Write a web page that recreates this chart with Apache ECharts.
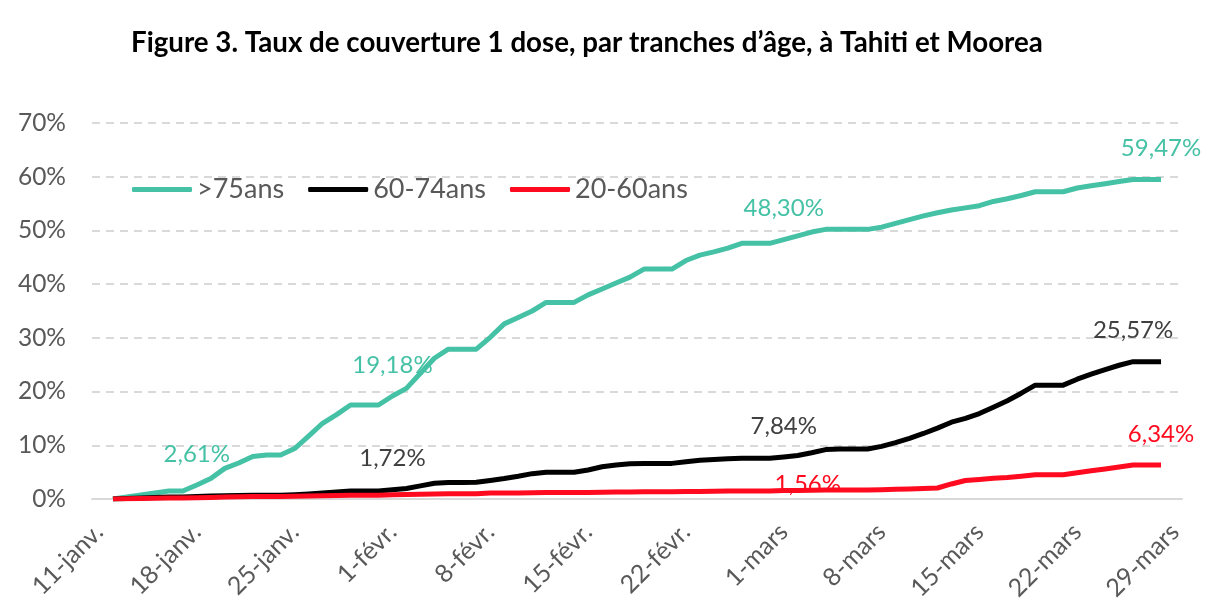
<!DOCTYPE html>
<html>
<head>
<meta charset="utf-8">
<script src="https://cdn.jsdelivr.net/npm/echarts@6/dist/echarts.min.js"></script>
<style>
html,body{margin:0;padding:0;background:#fff;}
#c{width:1223px;height:613px;}
</style>
</head>
<body>
<div id="c"></div>
<script>
const titleText = 'Figure 3. Taux de couverture 1 dose, par tranches d’âge, à Tahiti et Moorea';
const seriesNames = ['>75ans', '60-74ans', '20-60ans'];
const categories = [
 '11-janv.','12-janv.','13-janv.','14-janv.','15-janv.','16-janv.','17-janv.',
 '18-janv.','19-janv.','20-janv.','21-janv.','22-janv.','23-janv.','24-janv.',
 '25-janv.','26-janv.','27-janv.','28-janv.','29-janv.','30-janv.','31-janv.',
 '1-févr.','2-févr.','3-févr.','4-févr.','5-févr.','6-févr.','7-févr.',
 '8-févr.','9-févr.','10-févr.','11-févr.','12-févr.','13-févr.','14-févr.',
 '15-févr.','16-févr.','17-févr.','18-févr.','19-févr.','20-févr.','21-févr.',
 '22-févr.','23-févr.','24-févr.','25-févr.','26-févr.','27-févr.','28-févr.',
 '1-mars','2-mars','3-mars','4-mars','5-mars','6-mars','7-mars',
 '8-mars','9-mars','10-mars','11-mars','12-mars','13-mars','14-mars',
 '15-mars','16-mars','17-mars','18-mars','19-mars','20-mars','21-mars',
 '22-mars','23-mars','24-mars','25-mars','26-mars','27-mars','28-mars',
 '29-mars'
];
// coverage in %, one value per day (null = no data)
const over75 = [
 null,0,0.4,0.75,1.1,1.5,1.5,
 2.61,3.8,5.7,6.7,7.9,8.2,8.2,
 9.4,11.7,14.1,15.7,17.5,17.5,17.5,
 19.18,20.6,23.4,26.2,27.9,27.9,27.9,
 30.1,32.6,33.8,35.0,36.6,36.6,36.6,
 38.0,39.1,40.2,41.3,42.8,42.8,42.8,
 44.4,45.4,46.0,46.7,47.6,47.6,47.6,
 48.30,49.0,49.7,50.2,50.2,50.2,50.2,
 50.6,51.3,52.0,52.7,53.3,53.8,54.2,
 54.6,55.4,55.9,56.5,57.2,57.2,57.2,
 57.9,58.3,58.7,59.1,59.47,59.47,59.47,
 null
];
const age60to74 = [
 null,0,0.1,0.2,0.3,0.35,0.35,
 0.45,0.55,0.6,0.65,0.7,0.7,0.7,
 0.8,0.95,1.1,1.3,1.5,1.5,1.5,
 1.72,1.96,2.45,2.94,3.07,3.07,3.13,
 3.44,3.8,4.23,4.72,4.97,4.97,4.97,
 5.4,6.0,6.32,6.56,6.63,6.63,6.63,
 6.93,7.2,7.35,7.5,7.6,7.6,7.6,
 7.84,8.1,8.6,9.2,9.3,9.3,9.3,
 9.8,10.5,11.3,12.2,13.2,14.3,15.0,
 15.9,17.1,18.3,19.7,21.2,21.2,21.2,
 22.3,23.25,24.1,24.9,25.57,25.57,25.57,
 null
];
const age20to60 = [
 null,0,0.05,0.1,0.15,0.2,0.2,
 0.25,0.3,0.35,0.4,0.45,0.45,0.45,
 0.5,0.55,0.6,0.65,0.7,0.7,0.7,
 0.8,0.85,0.9,0.95,1.0,1.0,1.0,
 1.1,1.12,1.14,1.17,1.2,1.2,1.2,
 1.23,1.26,1.29,1.32,1.35,1.35,1.35,
 1.38,1.41,1.44,1.47,1.5,1.5,1.5,
 1.56,1.6,1.63,1.66,1.67,1.67,1.67,
 1.72,1.8,1.88,1.95,2.05,2.8,3.45,
 3.65,3.85,4.0,4.25,4.5,4.5,4.5,
 4.9,5.25,5.6,5.95,6.34,6.34,6.34,
 null
];
// indices of points carrying a data label
const over75Labels = [7, 21, 49, 76];
const age60to74Labels = [21, 49, 74];
const age20to60Labels = [49, 76];
const yTicks = [0, 10, 20, 30, 40, 50, 60, 70];

const FONT = 'Lato';
const colors = ['#45C1A5', '#000000', '#FF0A1E'];
const labelColors = ['#45C1A5', '#404040', '#FF0A1E'];
const labelOffsets = { '2-49': [24, 25] };

function fmt(v){ return v.toFixed(2).replace('.', ',') + '%'; }

function build(values, labelIdx, si){
  return values.map(function(v, i){
    if (labelIdx.indexOf(i) < 0 || v === null) return v;
    const off = labelOffsets[si + '-' + i] || [0, 0];
    return {
      value: v,
      label: {
        show: true, position: 'top', distance: 19, offset: off,
        formatter: function(p){ return fmt(p.value); },
        color: labelColors[si], fontFamily: FONT, fontSize: 24
      }
    };
  });
}

const allValues = [over75, age60to74, age20to60];
const allLabels = [over75Labels, age60to74Labels, age20to60Labels];

const chart = echarts.init(document.getElementById('c'));
chart.setOption({
  animation: false,
  backgroundColor: '#ffffff',
  title: {
    text: titleText, left: 126, top: 24,
    textStyle: { fontFamily: FONT, fontWeight: 'bold', fontSize: 27.7, color: '#000' }
  },
  legend: {
    left: 132, top: 176, padding: 0,
    icon: 'roundRect',
    itemWidth: 60, itemHeight: 5, itemGap: 24,
    data: seriesNames,
    textStyle: { fontFamily: FONT, fontSize: 27, color: '#595959' }
  },
  grid: { left: 92, right: 41, top: 123, bottom: 114, containLabel: false, outerBoundsMode: 'none' },
  xAxis: {
    type: 'category', data: categories, boundaryGap: true,
    axisLine: { lineStyle: { color: '#D9D9D9', width: 2 } },
    axisTick: { interval: 6, length: 8, lineStyle: { color: '#D9D9D9', width: 2 } },
    axisLabel: { interval: 6, rotate: 45, margin: 29, fontFamily: FONT, fontSize: 25, color: '#595959' }
  },
  yAxis: {
    type: 'value', min: yTicks[0], max: yTicks[yTicks.length - 1], interval: 10,
    axisLine: { show: false }, axisTick: { show: false },
    axisLabel: { formatter: '{value}%', margin: 26, fontFamily: FONT, fontSize: 24.5, color: '#595959' },
    splitLine: { lineStyle: { color: '#D9D9D9', width: 2, type: [8, 6] } }
  },
  series: seriesNames.map(function(name, si){
    return {
      name: name, type: 'line',
      symbol: 'circle', symbolSize: 0, showSymbol: true, showAllSymbol: true,
      connectNulls: false,
      data: build(allValues[si], allLabels[si], si),
      lineStyle: { color: colors[si], width: 5, join: 'round' },
      itemStyle: { color: colors[si] },
      z: 2 + si
    };
  })
});
</script>
</body>
</html>
